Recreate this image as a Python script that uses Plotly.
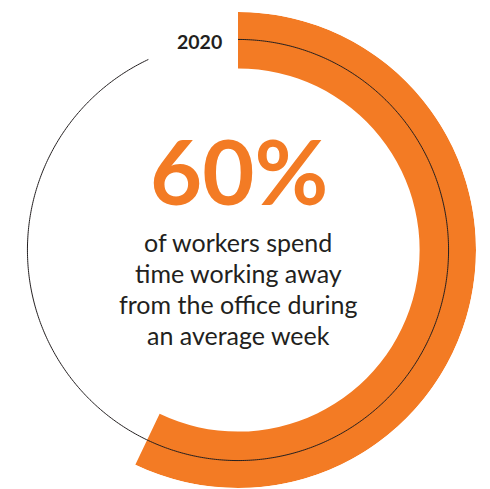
import numpy as np
import plotly.graph_objects as go

# Data
year_label = "2020"
headline = "60%"
caption_lines = ["of workers spend", "time working away", "from the office during", "an average week"]
arc_share_pct = 57.1        # share of the circle covered by the orange arc (as drawn)
ring_share_pct = 93.0       # share of the circle covered by the thin ring line

ORANGE = "#F37B24"
DARK = "#231F20"
W, H = 490, 489

arc_deg = arc_share_pct / 100 * 360
ring_deg = ring_share_pct / 100 * 360

fig = go.Figure()
fig.add_trace(go.Barpolar(
    r=[56.5], base=[182], theta=[arc_deg / 2], width=[arc_deg],
    marker=dict(color=ORANGE, line=dict(width=0)), hoverinfo="skip",
))
theta_line = np.linspace(0, ring_deg, 600)
fig.add_trace(go.Scatterpolar(
    r=[211] * len(theta_line), theta=theta_line, mode="lines",
    line=dict(color=DARK, width=1), hoverinfo="skip",
))

cx, cy, R = 238, 250, 238
fig.update_layout(
    width=W, height=H, margin=dict(l=0, r=0, t=0, b=0),
    paper_bgcolor="white", plot_bgcolor="white", showlegend=False,
    polar=dict(
        domain=dict(x=[(cx - R) / W, (cx + R) / W], y=[1 - (cy + R) / H, 1 - (cy - R) / H]),
        bgcolor="rgba(0,0,0,0)",
        radialaxis=dict(visible=False, range=[0, 238.5]),
        angularaxis=dict(visible=False, rotation=90, direction="clockwise"),
        bargap=0,
    ),
)

def ann(text, px, py, size, color, bold=False):
    fig.add_annotation(
        x=px / W, y=1 - py / H, xref="paper", yref="paper", showarrow=False,
        text=f"<b>{text}</b>" if bold else text,
        font=dict(family="Lato", size=size, color=color),
        xanchor="center", yanchor="middle",
    )

ann(year_label, 199, 41, 19.5, DARK, bold=True)
ann(headline, 239, 170, 90, ORANGE, bold=True)
for i, line in enumerate(caption_lines):
    ann(line, 238, 242 + i * 31, 25, DARK)

fig.write_html(
    "out.html",
    config={"displayModeBar": False},
    post_script="document.body.style.margin='0';document.body.style.overflow='hidden';",
)
